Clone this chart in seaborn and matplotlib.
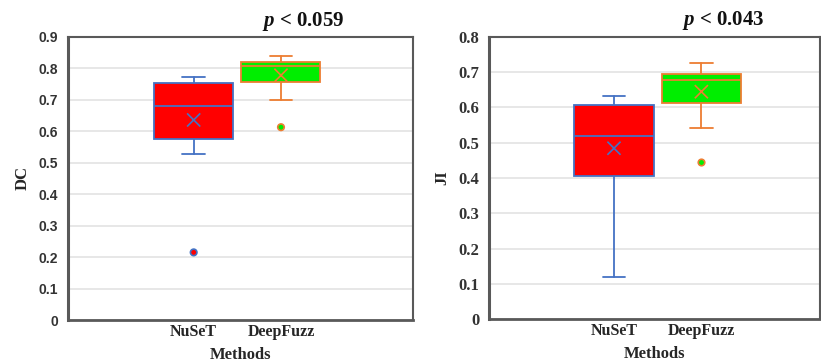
import numpy as np
import seaborn as sns
import matplotlib
matplotlib.use("Agg")
import matplotlib.pyplot as plt
from matplotlib.ticker import FuncFormatter

# values (Excel-style box plots)
methods = ["NuSeT", "DeepFuzz"]

dc_whislo = [0.528, 0.701]
dc_q1 = [0.575, 0.758]
dc_med = [0.681, 0.806]
dc_q3 = [0.755, 0.820]
dc_whishi = [0.773, 0.840]
dc_mean = [0.636, 0.778]
dc_fliers = [[0.215], [0.613]]

ji_whislo = [0.121, 0.542]
ji_q1 = [0.406, 0.612]
ji_med = [0.518, 0.676]
ji_q3 = [0.607, 0.694]
ji_whishi = [0.632, 0.726]
ji_mean = [0.484, 0.644]
ji_fliers = [[], [0.444]]

fill_colors = ["#FF0000", "#00EE00"]
edge_colors = ["#4472C4", "#ED7D31"]

sns.set_theme(style="white")
plt.rcParams["font.family"] = ["Liberation Serif", "DejaVu Serif"]
plt.rcParams["mathtext.fontset"] = "custom"
plt.rcParams["mathtext.it"] = "Liberation Serif:italic:bold"
plt.rcParams["mathtext.rm"] = "Liberation Serif:bold"


def draw_panel(ax, whislo, q1, med, q3, whishi, mean, fliers, ylim, ylabel, p_text, tick_family, tick_size):
    pos = np.arange(len(methods))
    stats = []
    for i in range(len(methods)):
        stats.append(dict(whislo=whislo[i], q1=q1[i], med=med[i], q3=q3[i],
                          whishi=whishi[i], fliers=[]))
    parts = ax.bxp(stats, positions=pos, widths=0.905, capwidths=0.26,
                   patch_artist=True, showfliers=False, manage_ticks=False)
    for i in range(len(methods)):
        parts["boxes"][i].set_facecolor(fill_colors[i])
        parts["boxes"][i].set_edgecolor(edge_colors[i])
        parts["boxes"][i].set_linewidth(1.3)
        parts["medians"][i].set_color(edge_colors[i])
        parts["medians"][i].set_linewidth(1.3)
        for line in parts["whiskers"][2 * i:2 * i + 2] + parts["caps"][2 * i:2 * i + 2]:
            line.set_color(edge_colors[i])
            line.set_linewidth(1.3)

    # mean markers
    sns.scatterplot(x=pos, y=mean, hue=methods, palette=edge_colors, marker="x",
                    s=90, linewidth=1.2, legend=False, ax=ax, zorder=5)

    # outliers
    fx, fy, fc, ec = [], [], [], []
    for i, vals in enumerate(fliers):
        for v in vals:
            fx.append(pos[i])
            fy.append(v)
            fc.append(fill_colors[i])
            ec.append(edge_colors[i])
    if fx:
        ax.scatter(fx, fy, s=22, c=fc, edgecolors=ec, linewidths=1.2, zorder=5)

    ax.set_ylim(*ylim)
    ax.set_yticks(np.arange(0, ylim[1] + 0.001, 0.1))
    ax.yaxis.set_major_formatter(FuncFormatter(lambda v, _: "0" if abs(v) < 1e-9 else f"{v:.1f}"))
    ax.set_xticks(pos)
    ax.set_xticklabels(methods, fontsize=11.5, fontweight="bold")
    for lab in ax.get_yticklabels():
        lab.set_family(tick_family)
        lab.set_fontweight("bold")
        lab.set_fontsize(tick_size)
        lab.set_color("#333333")
    ax.tick_params(axis="both", length=0, pad=7)
    ax.tick_params(axis="x", pad=3)
    ax.grid(axis="y", color="#E3E3E3", linewidth=1.2)
    ax.set_axisbelow(True)
    ax.set_ylabel(ylabel, fontsize=12, fontweight="bold", labelpad=6)
    ax.set_xlabel("Methods", fontsize=12, fontweight="bold", labelpad=5)
    for side in ["top", "right", "bottom", "left"]:
        ax.spines[side].set_visible(True)
        ax.spines[side].set_color("#595959")
    ax.spines["left"].set_linewidth(2.2)
    ax.spines["bottom"].set_linewidth(2.0)
    ax.spines["top"].set_linewidth(1.5)
    ax.spines["right"].set_linewidth(1.5)
    ax.text(1.25, 1.015, p_text, transform=ax.get_xaxis_transform(), ha="center", va="bottom",
            fontsize=15, fontweight="bold", color="#111111")


fig = plt.figure(figsize=(8.21, 3.62), dpi=100)
ax1 = fig.add_axes([0.0828, 0.116, 0.420, 0.782])
ax2 = fig.add_axes([0.5956, 0.118, 0.4035, 0.781])

draw_panel(ax1, dc_whislo, dc_q1, dc_med, dc_q3, dc_whishi, dc_mean, dc_fliers,
           (0, 0.9), "DC", r"$p$ < 0.059", ["Liberation Sans", "DejaVu Sans"], 10)
ax1.set_xlim(-1.44, 2.51)

draw_panel(ax2, ji_whislo, ji_q1, ji_med, ji_q3, ji_whishi, ji_mean, ji_fliers,
           (0, 0.8), "JI", r"$p$ < 0.043", ["Liberation Serif", "DejaVu Serif"], 12)
ax2.set_xlim(-1.43, 2.36)

plt.savefig("out.png", dpi=100)
